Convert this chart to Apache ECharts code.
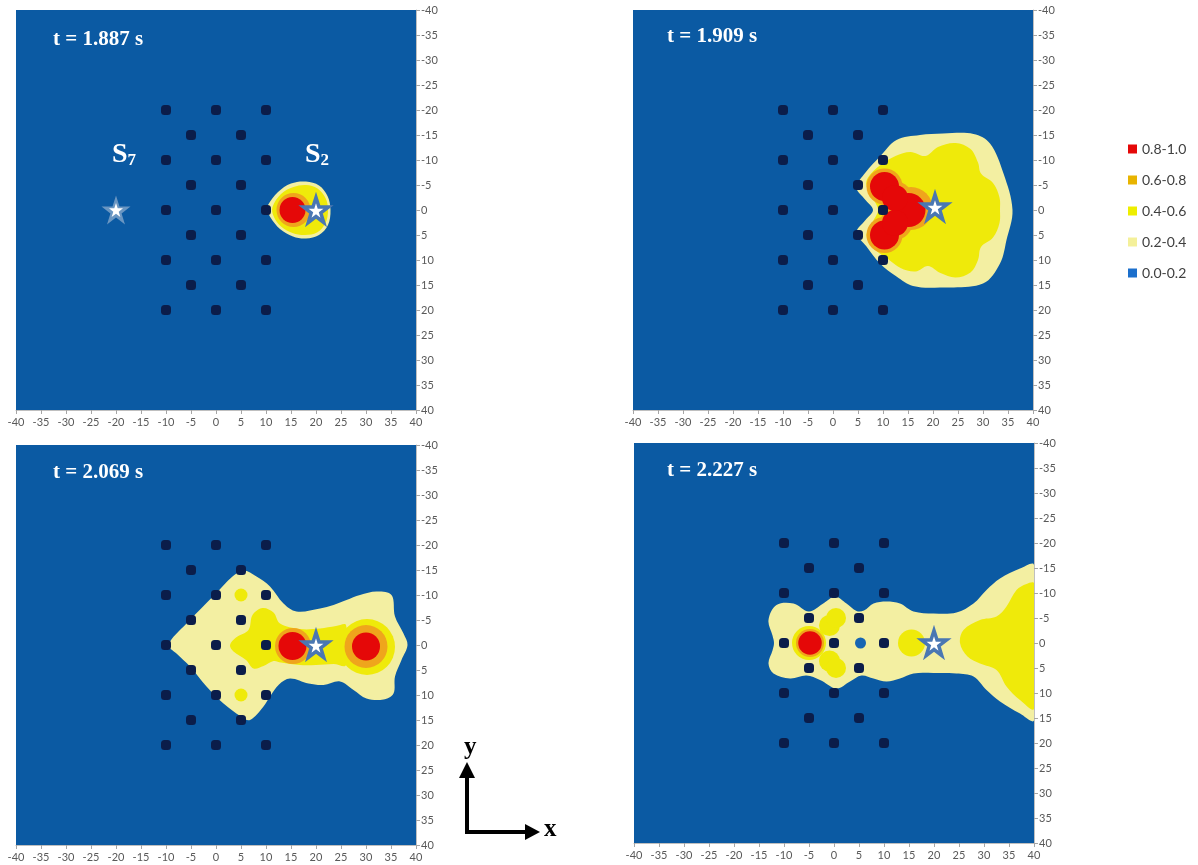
<!DOCTYPE html>
<html>
<head>
<meta charset="utf-8">
<script src="https://cdn.jsdelivr.net/npm/echarts@6/dist/echarts.min.js"></script>
<style>
  html, body { margin: 0; padding: 0; background: #ffffff; }
  #chart { width: 1198px; height: 865px; }
</style>
</head>
<body>
<div id="chart"></div>
<script>
// ---- axis ticks ----
const axisMin = -40;
const axisMax = 40;
const axisStep = 5;

// ---- legend classes ----
const levelNames = ['0.8-1.0', '0.6-0.8', '0.4-0.6', '0.2-0.4', '0.0-0.2'];

// ---- panel titles ----
const panelTimes = ['t = 1.887 s', 't = 1.909 s', 't = 2.069 s', 't = 2.227 s'];

// ---- pillar array (x, y) ----
const pillars = [
  [-10, -20], [0, -20], [10, -20],
  [-5, -15], [5, -15],
  [-10, -10], [0, -10], [10, -10],
  [-5, -5], [5, -5],
  [-10, 0], [0, 0], [10, 0],
  [-5, 5], [5, 5],
  [-10, 10], [0, 10], [10, 10],
  [-5, 15], [5, 15],
  [-10, 20], [0, 20], [10, 20]
];

// ---- source positions ----
const sourceS2 = [[20, 0], [20.4, -0.6], [20, 0], [20, 0]];
const sourceS7 = [[-20, 0]];

// ---- contour outlines: circles are [x, y, r], polygons are lists of [x, y] ----
// t = 1.887 s
const p1Pale = [[10.4, -1], [12.4, -3.6], [15, -5.3], [18, -5.7], [20.6, -4.9], [22.3, -2.8], [22.9, 0],
  [22.4, 3], [20.6, 5], [18, 5.7], [15.4, 5.3], [12.8, 3.8], [10.9, 1.5], [10.3, 0]];
const p1YellowPoly = [[11.3, -0.6], [13, -3.2], [15.5, -4.6], [18, -5], [20.3, -4.3], [21.9, -2.4], [22.4, 0],
  [21.9, 2.6], [20.2, 4.5], [17.8, 5], [15.3, 4.6], [13, 3.3], [11.5, 1.2]];
const p1OrangeCircles = [[15.5, 0, 3.4]];
const p1RedCircles = [[15.3, 0, 2.6]];

// t = 1.909 s
const p2Pale = [[4.7, -4.5], [6.5, -7.5], [9.4, -10.7], [12.7, -14], [17.4, -15], [22, -15.3], [28.1, -15.2],
  [31.4, -13.3], [34.1, -7.3], [35.9, 0], [34.7, 6], [33.4, 10.7], [30, 14.7], [21.4, 15.5], [16, 15.2],
  [12.7, 13.3], [9.4, 10.7], [6.7, 7.3], [4.7, 4.5], [6.5, 2], [8, 0], [6.5, -2]];
const p2YellowPoly = [[7, -6.5], [9.5, -9], [12.5, -10.8], [15.5, -11.6], [18.5, -10.8], [21, -12.6],
  [24.5, -13.4], [27.5, -12.2], [29, -9.5], [29.6, -7.3], [32, -5.4], [33.3, -2.5], [33.4, 0], [33.3, 2.6],
  [32, 5.5], [29.6, 7.4], [29, 10], [27.5, 12.5], [24.5, 13.5], [21.5, 12.6], [19, 11.2], [16.5, 12.3],
  [13.5, 11.6], [11, 9.8], [8.5, 8], [6.7, 5.2], [8, 2.3], [9, 0], [8, -2.3], [6.7, -4.8]];
const p2OrangeCircles = [[10.3, -4.7, 3.6], [10.3, 5, 3.6], [15.6, -0.3, 4.3], [12.6, -2.5, 3.2], [12.6, 2.7, 3.2]];
const p2RedCircles = [[10.3, -4.7, 2.9], [10.3, 5, 2.9], [15.1, 0, 3.4], [12.4, -2.4, 2.6], [12.4, 2.6, 2.6]];

// t = 2.069 s
const p3Pale = [[-9.5, 0], [-5.9, -4.3], [0, -10.3], [3.3, -13.7], [5.5, -14.9], [8.1, -13.7], [10.8, -11.7],
  [13.5, -8.3], [16.1, -6.7], [20.8, -7.3], [23.5, -8], [26.1, -9], [28.8, -10], [32.1, -10.7], [35.1, -10],
  [35.8, -5.7], [37.5, -2.3], [38.3, 0], [37.1, 3], [35.8, 6.3], [35.5, 9.7], [33.5, 10.9], [30.1, 10.7],
  [27.5, 9], [24.8, 7.3], [21.5, 8], [18.5, 7.7], [14.8, 6.7], [12.6, 7.9], [10.8, 10.3], [9.5, 12.3],
  [6.8, 15], [5, 14.3], [1.5, 11.7], [-1.9, 8.3], [-5.2, 4.3], [-7.9, 1.7]];
const p3YellowPoly = [[2.8, 0], [4, -1.5], [6.5, -3], [7.3, -6], [9.3, -7.4], [11.5, -6.5], [12.8, -4.3],
  [16.8, -3.2], [20.8, -3.3], [24, -3.8], [26, -4], [26, 4], [23.5, 3.8], [20, 4], [16.8, 4], [13, 3.5],
  [11.5, 3.2], [9.5, 4.2], [7.5, 4.7], [6, 3], [3.5, 1.3]];
const p3YellowCircles = [[30.2, 0.4, 5.6], [5, -10, 1.3], [5, 10, 1.3]];
const p3OrangeCircles = [[15.4, 0.2, 3.6], [30, 0.3, 4.3]];
const p3RedCircles = [[15.3, 0.2, 2.8], [30, 0.3, 2.8]];

// t = 2.227 s
const p4Pale = [[-13.1, -4.6], [-11.5, -7.6], [-8.1, -7.9], [-5, -6.3], [-2, -8], [0.2, -9.3], [2.5, -7.9],
  [4.5, -6.4], [6, -6.5], [7.9, -7.9], [10.5, -8.3], [13.2, -7.9], [15.9, -6.3], [19.9, -5.9], [24.5, -6.1],
  [27.9, -7.9], [30.5, -10.6], [33.2, -12.9], [37.2, -14.9], [40, -15.6], [40, 15.4], [37.2, 14.1],
  [33.2, 11.7], [30.5, 9.4], [27.9, 6.7], [24.5, 6.1], [19.9, 6], [15.9, 6.1], [13.2, 7.1], [10.5, 7.7],
  [7.9, 7.1], [5.5, 6.5], [3.2, 7.7], [0.5, 9.1], [-2.8, 7.4], [-5.5, 6.5], [-8.8, 7.1], [-12.1, 6.1],
  [-13.1, 4.1], [-12.3, 1.5], [-12, 0], [-12.3, -1.5]];
const p4YellowPoly = [[25.2, 0], [25.9, -2.6], [29.2, -4.6], [32.5, -5.3], [34.5, -7.3], [36.5, -10.6],
  [38.5, -11.8], [40, -11.9], [40, 13.1], [37.2, 11.4], [34.5, 8.7], [32.5, 5.4], [29.2, 4.1], [26.7, 2.7]];
const p4YellowCircles = [[15.5, 0, 2.7], [-5, 0, 3.4], [-0.9, -3.5, 2.1], [0.4, -5, 2], [-0.9, 3.6, 2.1], [0.4, 5, 2]];
const p4OrangeCircles = [[-4.8, 0, 2.8]];
const p4RedCircles = [[-4.8, 0, 2.35]];
const p4Holes = [[5.3, 0, 1.1]];

// ---- colours ----
const colors = {
  bg: '#0b5aa3',
  pale: '#f3efa2',
  yellow: '#efea0a',
  orange: '#efa51c',
  red: '#e50808',
  hole: '#1665b2',
  pillar: '#0b1d4a'
};

// ---- panel frames (pixels) ----
const panels = [
  { left: 16, top: 10 },
  { left: 633, top: 10 },
  { left: 16, top: 445 },
  { left: 634, top: 443 }
];
const panelSize = 400;

function circles(list) { return list.map(c => ({ c })); }
function poly(pts) { return { p: pts }; }

const panelShapes = [
  { pale: [poly(p1Pale)], yellow: [poly(p1YellowPoly)], orange: circles(p1OrangeCircles), red: circles(p1RedCircles), holes: [] },
  { pale: [poly(p2Pale)], yellow: [poly(p2YellowPoly)], orange: circles(p2OrangeCircles), red: circles(p2RedCircles), holes: [] },
  { pale: [poly(p3Pale)], yellow: [poly(p3YellowPoly)].concat(circles(p3YellowCircles)), orange: circles(p3OrangeCircles), red: circles(p3RedCircles), holes: [] },
  { pale: [poly(p4Pale)], yellow: [poly(p4YellowPoly)].concat(circles(p4YellowCircles)), orange: circles(p4OrangeCircles), red: circles(p4RedCircles), holes: circles(p4Holes) }
];

function levelSeries(idx, name, color, shapes, z) {
  return {
    type: 'custom', name, xAxisIndex: idx, yAxisIndex: idx, z, silent: true, clip: true,
    itemStyle: { color },
    data: shapes.map(s => s.c ? [s.c[0], s.c[1]] : [s.p[0][0], s.p[0][1]]),
    renderItem: (params, api) => {
      const s = shapes[params.dataIndex];
      if (s.c) {
        const ctr = api.coord([s.c[0], s.c[1]]);
        const r = Math.abs(api.size([s.c[2], 0])[0]);
        return { type: 'circle', shape: { cx: ctr[0], cy: ctr[1], r }, style: { fill: color } };
      }
      return {
        type: 'polygon',
        shape: { points: s.p.map(pt => api.coord(pt)), smooth: 0.35 },
        style: { fill: color }
      };
    }
  };
}

function backgroundSeries(idx) {
  return {
    type: 'custom', name: levelNames[4], xAxisIndex: idx, yAxisIndex: idx, z: 1, silent: true,
    itemStyle: { color: colors.bg },
    data: [[0, 0]],
    renderItem: (params, api) => {
      const a = api.coord([axisMin, axisMin]);
      const b = api.coord([axisMax, axisMax]);
      return {
        type: 'rect',
        shape: { x: Math.min(a[0], b[0]), y: Math.min(a[1], b[1]), width: Math.abs(b[0] - a[0]), height: Math.abs(b[1] - a[1]) },
        style: { fill: colors.bg }
      };
    }
  };
}

const starPath = 'path://M50,0 L61.8,35.1 L98.9,35.1 L68.9,56.8 L80.3,91.8 L50,70 L19.7,91.8 L31.1,56.8 L1.1,35.1 L38.2,35.1 Z';
const pillarPath = 'path://M3.5,0 H6.5 Q10,0 10,3.5 V6.5 Q10,10 6.5,10 H3.5 Q0,10 0,6.5 V3.5 Q0,0 3.5,0 Z';

const grids = [], xAxes = [], yAxes = [], series = [];
const tickLabelStyle = { color: '#595959', fontSize: 11, fontFamily: 'Lato' };

panels.forEach((pn, i) => {
  grids.push({ left: pn.left, top: pn.top, width: panelSize, height: panelSize, containLabel: false });
  xAxes.push({
    type: 'value', gridIndex: i, min: axisMin, max: axisMax, interval: axisStep, position: 'bottom',
    axisLine: { show: true, onZero: false, lineStyle: { color: '#bfbfbf', width: 1 } },
    axisTick: { show: true, length: 4, lineStyle: { color: '#a6a6a6' } },
    axisLabel: Object.assign({ margin: 7, showMinLabel: true, showMaxLabel: true }, tickLabelStyle),
    splitLine: { show: false }
  });
  yAxes.push({
    type: 'value', gridIndex: i, min: axisMin, max: axisMax, interval: axisStep, position: 'right', inverse: true,
    axisLine: { show: true, onZero: false, lineStyle: { color: '#bfbfbf', width: 1 } },
    axisTick: { show: true, length: 4, lineStyle: { color: '#a6a6a6' } },
    axisLabel: Object.assign({ margin: 5, showMinLabel: true, showMaxLabel: true }, tickLabelStyle),
    splitLine: { show: false }
  });

  const sh = panelShapes[i];
  series.push(backgroundSeries(i));
  series.push(levelSeries(i, levelNames[3], colors.pale, sh.pale, 2));
  series.push(levelSeries(i, levelNames[2], colors.yellow, sh.yellow, 3));
  series.push(levelSeries(i, levelNames[1], colors.orange, sh.orange, 4));
  series.push(levelSeries(i, levelNames[0], colors.red, sh.red, 5));
  if (sh.holes.length) series.push(levelSeries(i, levelNames[4], colors.hole, sh.holes, 6));

  series.push({
    type: 'scatter', xAxisIndex: i, yAxisIndex: i, z: 7, silent: true,
    symbol: pillarPath, symbolSize: 10,
    itemStyle: { color: colors.pillar, opacity: 1 },
    data: pillars
  });
  series.push({
    type: 'scatter', xAxisIndex: i, yAxisIndex: i, z: 8, silent: true,
    symbol: starPath, symbolSize: 25,
    itemStyle: { color: '#ffffff', borderColor: '#4a77b2', borderWidth: 3.5, opacity: 1 },
    data: [sourceS2[i]]
  });
  if (i === 0) {
    series.push({
      type: 'scatter', xAxisIndex: i, yAxisIndex: i, z: 8, silent: true,
      symbol: starPath, symbolSize: 29,
      itemStyle: { color: 'rgba(170,190,215,0.6)', opacity: 1 },
      data: sourceS7
    });
    series.push({
      type: 'scatter', xAxisIndex: i, yAxisIndex: i, z: 9, silent: true,
      symbol: starPath, symbolSize: 14,
      itemStyle: { color: '#ffffff', opacity: 1 },
      data: sourceS7
    });
  }
});

const legendColors = [colors.red, '#e8b400', '#eeee00', '#f4f09a', '#1b6fcc'];

const titleFont = 'bold 21px "Liberation Serif"';
const graphics = [];
const titlePos = [[53, 41], [667, 38], [53, 474], [667, 472]];
panelTimes.forEach((t, i) => {
  graphics.push({
    type: 'text', left: titlePos[i][0], top: titlePos[i][1] - 12, z: 100,
    style: { text: t, fill: '#ffffff', font: titleFont }
  });
});
const subRich = {
  a: { fontSize: 28, fontWeight: 'bold', fontFamily: 'Liberation Serif', fill: '#ffffff', verticalAlign: 'bottom', lineHeight: 30 },
  b: { fontSize: 17, fontWeight: 'bold', fontFamily: 'Liberation Serif', fill: '#ffffff', verticalAlign: 'bottom', lineHeight: 26 }
};
graphics.push({ type: 'text', left: 112, top: 141, z: 100, style: { text: '{a|S}{b|7}', rich: subRich, fill: '#ffffff' } });
graphics.push({ type: 'text', left: 305, top: 141, z: 100, style: { text: '{a|S}{b|2}', rich: subRich, fill: '#ffffff' } });

// axis orientation sketch
graphics.push({ type: 'line', z: 100, shape: { x1: 467, y1: 832, x2: 467, y2: 775 }, style: { stroke: '#000', lineWidth: 4 } });
graphics.push({ type: 'polygon', z: 100, shape: { points: [[459, 778], [475, 778], [467, 762]] }, style: { fill: '#000' } });
graphics.push({ type: 'line', z: 100, shape: { x1: 465, y1: 832, x2: 527, y2: 832 }, style: { stroke: '#000', lineWidth: 4 } });
graphics.push({ type: 'polygon', z: 100, shape: { points: [[525, 824], [525, 840], [540, 832]] }, style: { fill: '#000' } });
graphics.push({ type: 'text', left: 464, top: 735, z: 100, style: { text: 'y', fill: '#000', font: 'bold 25px "Liberation Serif"' } });
graphics.push({ type: 'text', left: 544, top: 817, z: 100, style: { text: 'x', fill: '#000', font: 'bold 25px "Liberation Serif"' } });

const chart = echarts.init(document.getElementById('chart'), null, { renderer: 'canvas' });
chart.setOption({
  animation: false,
  backgroundColor: '#ffffff',
  grid: grids,
  xAxis: xAxes,
  yAxis: yAxes,
  legend: {
    orient: 'vertical', left: 1123, top: 137,
    itemWidth: 9, itemHeight: 9, itemGap: 17, icon: 'rect', selectedMode: false,
    textStyle: { fontSize: 14, color: '#404040', fontFamily: 'Lato' },
    data: levelNames.map((n, k) => ({ name: n, itemStyle: { color: legendColors[k] } }))
  },
  graphic: graphics,
  series
});
</script>
</body>
</html>
